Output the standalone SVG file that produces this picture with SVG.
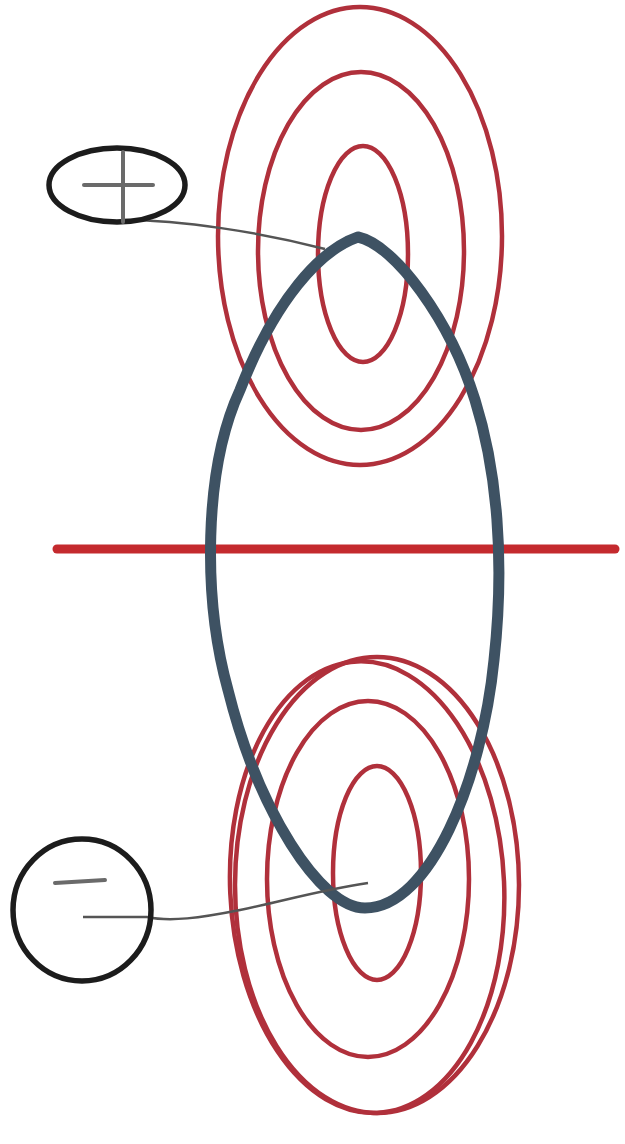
<svg xmlns="http://www.w3.org/2000/svg" width="625" height="1144" viewBox="0 0 625 1144">
  <style>
    .field { fill: none; stroke: #b0303b; stroke-width: 4.5; }
    .orbit { fill: none; stroke: #3e5263; stroke-width: 11; stroke-linejoin: round; }
    .axis { stroke: #c42a2e; stroke-width: 9; stroke-linecap: round; }
    .charge { fill: none; stroke: #1c1c1c; stroke-width: 5.5; }
    .sign { stroke: #6a6a6a; stroke-width: 4; stroke-linecap: round; }
    .lead { fill: none; stroke: #555555; stroke-width: 2.5; }
  </style>
  <rect width="625" height="1144" fill="#ffffff"/>
  <g id="field-top">
    <ellipse class="field" cx="360" cy="236" rx="142" ry="229"/>
    <ellipse class="field" cx="361" cy="251" rx="103" ry="179"/>
    <ellipse class="field" cx="363" cy="254" rx="45" ry="108"/>
  </g>
  <g id="field-bottom">
    <ellipse class="field" cx="377" cy="885" rx="142" ry="228"/>
    <ellipse class="field" cx="377" cy="887" rx="137" ry="226" transform="rotate(-2.5 377 1113)"/>
    <ellipse class="field" cx="368" cy="879" rx="101" ry="178"/>
    <ellipse class="field" cx="377" cy="873" rx="44" ry="107"/>
  </g>
  <g id="axis">
    <line class="axis" x1="57" y1="549" x2="615" y2="549"/>
  </g>
  <g id="orbit">
    <path class="orbit" d="M358,237 C395,245 450,320 475,400 C497,470 505,560 494,660 C482,780 430,908 365,908 C320,908 258,810 228,690 C203,600 203,470 240,390 C275,300 320,250 358,237 Z"/>
  </g>
  <g id="connectors">
    <path class="lead" d="M125,220 C180,220 260,232 325,249"/>
    <path class="lead" d="M83,917 L147,917 C170,922 200,918 240,910 C280,902 320,890 368,883"/>
  </g>
  <g id="plus-charge">
    <ellipse class="charge" cx="117" cy="185" rx="68" ry="37"/>
    <line class="sign" x1="84" y1="185" x2="153" y2="185"/>
    <line class="sign" x1="123" y1="152" x2="123" y2="222"/>
  </g>
  <g id="minus-charge">
    <ellipse class="charge" cx="82" cy="910" rx="69" ry="71"/>
    <line class="sign" x1="55" y1="883" x2="105" y2="880"/>
  </g>
</svg>
